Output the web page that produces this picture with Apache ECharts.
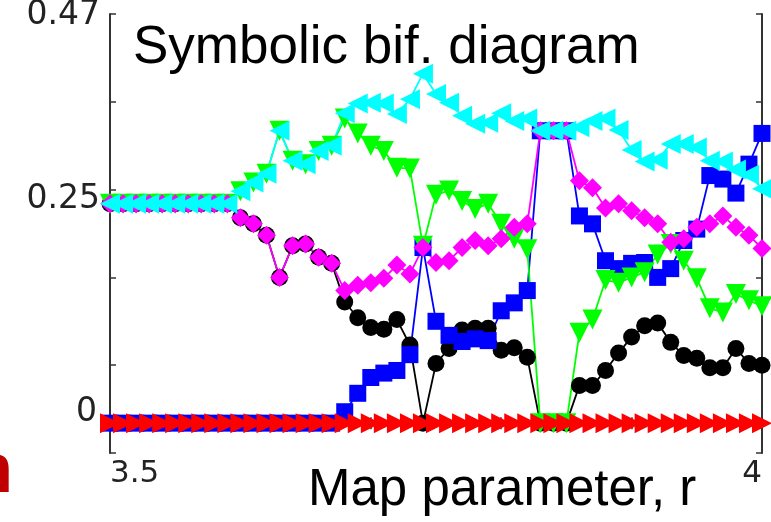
<!DOCTYPE html>
<html><head><meta charset="utf-8">
<script src="https://cdn.jsdelivr.net/npm/echarts@6/dist/echarts.min.js"></script>
<style>html,body{margin:0;padding:0;background:#fff}#c{width:771px;height:522px}</style>
</head><body><div id="c"></div>
<script>
// Map parameter r (x values)
const r = [3.50,3.51,3.52,3.53,3.54,3.55,3.56,3.57,3.58,3.59,
           3.60,3.61,3.62,3.63,3.64,3.65,3.66,3.67,3.68,3.69,
           3.70,3.71,3.72,3.73,3.74,3.75,3.76,3.77,3.78,3.79,
           3.80,3.81,3.82,3.83,3.84,3.85,3.86,3.87,3.88,3.89,
           3.90,3.91,3.92,3.93,3.94,3.95,3.96,3.97,3.98,3.99,4.00];

const xTickValues = [3.5, 4.0];
const xTickLabels = ['3.5', '4'];
const yTickLabels = ['0.47', '0.25', '0'];

const blackCircles = [0.25,0.25,0.25,0.25,0.25,0.25,0.25,0.25,0.25,0.25,
  0.234,0.227,0.214,0.166,0.202,0.204,0.189,0.182,0.138,0.120,
  0.109,0.107,0.118,0.089,0,0.068,0.085,0.106,0.108,0.108,
  0.083,0.086,0.075,0,0,0,0.043,0.043,0.060,0.080,
  0.098,0.111,0.114,0.092,0.077,0.074,0.063,0.063,0.085,0.068,0.066];

const blueSquares = [0,0,0,0,0,0,0,0,0,0,
  0,0,0,0,0,0,0,0,0.013,0.034,
  0.052,0.057,0.060,0.078,0.200,0.116,0.100,0.093,0.096,0.094,
  0.128,0.137,0.151,0.333,0.333,0.333,0.236,0.227,0.185,0.176,
  0.182,0.183,0.166,0.176,0.208,0.221,0.282,0.278,0.262,0.295,0.330];

const greenDown = [0.25,0.25,0.25,0.25,0.25,0.25,0.25,0.25,0.25,0.25,
  0.264,0.274,0.284,0.333,0.299,0.295,0.310,0.316,0.347,0.330,
  0.316,0.310,0.291,0.290,0.202,0.260,0.265,0.253,0.244,0.250,
  0.227,0.210,0.198,0,0,0,0.103,0.118,0.163,0.160,
  0.166,0.172,0.192,0.204,0.185,0.165,0.131,0.126,0.147,0.140,0.133];

const magentaDiamonds = [0.25,0.25,0.25,0.25,0.25,0.25,0.25,0.25,0.25,0.25,
  0.234,0.227,0.214,0.166,0.202,0.204,0.189,0.182,0.151,0.157,
  0.160,0.165,0.180,0.170,0.200,0.183,0.185,0.200,0.208,0.202,
  0.210,0.223,0.227,0.333,0.333,0.333,0.276,0.268,0.245,0.250,
  0.242,0.234,0.227,0.206,0.210,0.223,0.227,0.236,0.223,0.214,0.199];

const cyanLeft = [0.25,0.25,0.25,0.25,0.25,0.25,0.25,0.25,0.25,0.25,
  0.264,0.274,0.284,0.333,0.299,0.295,0.310,0.316,0.353,0.364,
  0.365,0.364,0.352,0.369,0.398,0.375,0.365,0.350,0.341,0.342,
  0.353,0.344,0.347,0.333,0.333,0.333,0.337,0.344,0.347,0.334,
  0.311,0.298,0.300,0.318,0.318,0.314,0.299,0.298,0.289,0.283,0.267];

const redRight = [0,0,0,0,0,0,0,0,0,0,0,0,0,0,0,0,0,0,0,0,0,0,0,0,0,
  0,0,0,0,0,0,0,0,0,0,0,0,0,0,0,0,0,0,0,0,0,0,0,0,0,0];

function pairs(arr){ return r.map((x,i)=>[x,arr[i]]); }

const axisColor = '#333';
const yMin = -0.034, yMax = 0.466;

function mkSeries(name, data, color, symbol, size, rot){
  return {
    name, type:'line', data: pairs(data), clip:false,
    symbol, symbolSize:size, symbolRotate:rot||0, showAllSymbol:true,
    lineStyle:{color, width:1.8},
    itemStyle:{color, borderWidth:0},
    emphasis:{disabled:true}
  };
}

const chart = echarts.init(document.getElementById('c'));
chart.setOption({
  animation:false,
  grid:{left:110, right:9, top:14, bottom:69},
  xAxis:[{
    type:'value', min:3.5, max:4.0, interval:0.1,
    axisLine:{lineStyle:{color:axisColor, width:1.5}},
    axisTick:{inside:true, length:6, lineStyle:{color:axisColor, width:1.5}},
    splitLine:{show:false},
    axisLabel:{
      formatter: v => { const k = xTickValues.findIndex(t => Math.abs(t-v) < 1e-6); return k >= 0 ? xTickLabels[k] : ''; },
      fontFamily:'DejaVu Sans', fontSize:31, color:'#222', margin:5,
      alignMinLabel:'left', alignMaxLabel:'right', showMinLabel:true, showMaxLabel:true
    }
  },{
    type:'value', position:'top', min:3.5, max:4.0, interval:0.1,
    axisLine:{lineStyle:{color:axisColor, width:1.5}},
    axisTick:{inside:true, length:6, lineStyle:{color:axisColor, width:1.5}},
    axisLabel:{show:false}, splitLine:{show:false}
  }],
  yAxis:[{
    type:'value', min:yMin, max:yMax, interval:0.1,
    axisLine:{show:true, lineStyle:{color:axisColor, width:2}},
    axisTick:{show:true, inside:true, length:6, lineStyle:{color:axisColor, width:1.5}},
    axisLabel:{show:false}, splitLine:{show:false}
  },{
    type:'value', position:'right', min:yMin, max:yMax, interval:0.1,
    axisLine:{show:true, lineStyle:{color:axisColor, width:2}},
    axisTick:{show:true, inside:true, length:6, lineStyle:{color:axisColor, width:1.5}},
    axisLabel:{show:false}, splitLine:{show:false}
  }],
  series:[
    mkSeries('black', blackCircles, '#000000', 'circle', 17),
    mkSeries('blue', blueSquares, '#0000FF', 'rect', 17),
    mkSeries('green', greenDown, '#00FF00', 'triangle', 20, 180),
    mkSeries('magenta', magentaDiamonds, '#FF00FF', 'diamond', 19),
    mkSeries('cyan', cyanLeft, '#00FFFF', 'triangle', 20, 90),
    mkSeries('red', redRight, '#FF0000', 'triangle', 20, -90)
  ],
  graphic:[
    {type:'text', z:100, style:{text:yTickLabels[0], x:100, y:15, align:'right', verticalAlign:'middle', font:'33px "DejaVu Sans"', fill:'#222'}},
    {type:'text', z:100, style:{text:yTickLabels[1], x:100, y:199, align:'right', verticalAlign:'middle', font:'33px "DejaVu Sans"', fill:'#222'}},
    {type:'text', z:100, style:{text:yTickLabels[2], x:97, y:412, align:'right', verticalAlign:'middle', font:'33px "DejaVu Sans"', fill:'#222'}},
    {type:'text', z:100, style:{text:'Symbolic bif. diagram', x:133, y:48.6, verticalAlign:'middle', font:'53px "Liberation Sans"', fill:'#000'}},
    {type:'text', z:100, style:{text:'Map parameter, r', x:308, y:491, verticalAlign:'middle', font:'51px "Liberation Sans"', fill:'#000'}},
    {type:'text', z:100, style:{text:'n', x:13, y:473, align:'right', verticalAlign:'middle', font:'bold 70px "Liberation Sans"', fill:'#C00000'}}
  ]
});
</script></body></html>
